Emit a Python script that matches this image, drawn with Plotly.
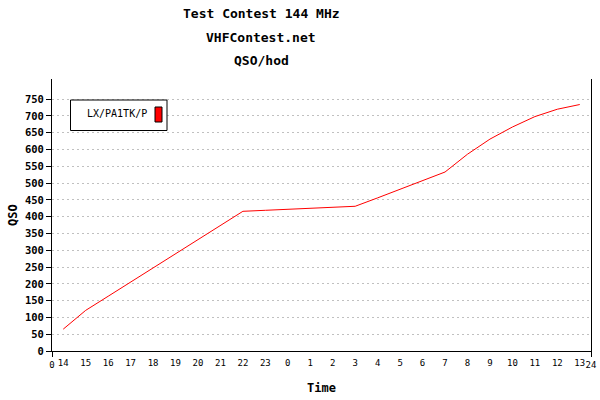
import plotly.graph_objects as go

hours = ["14", "15", "16", "17", "18", "19", "20", "21", "22", "23",
         "0", "1", "2", "3", "4", "5", "6", "7", "8", "9", "10", "11", "12", "13"]
qso = [65, 121, 163, 205, 247, 290, 332, 374, 416, 419,
       422, 425, 428, 431, 456, 482, 507, 533, 586, 631, 667, 698, 720, 734]
y_ticks = list(range(0, 751, 50))
series_name = "LX/PA1TK/P"
titles = ["Test Contest 144 MHz", "VHFContest.net", "QSO/hod"]

MONO = "DejaVu Sans Mono"
L, R, T, B = 52, 9, 79, 49
W, H = 600, 400
PW, PH = W - L - R, H - T - B

def px(xp):
    return (xp - L) / PW

def py(yp):
    return (H - B - yp) / PH

xpos = [i + 0.5 for i in range(len(hours))]

fig = go.Figure()
fig.add_trace(go.Scatter(x=xpos, y=qso, mode="lines", name=series_name,
                         line=dict(color="#ff0000", width=1), showlegend=False))
# invisible trace on overlay axis for hour labels
fig.add_trace(go.Scatter(x=xpos, y=qso, mode="lines", xaxis="x2",
                         line=dict(color="rgba(0,0,0,0)", width=0),
                         showlegend=False, hoverinfo="skip"))

fig.update_layout(
    width=W, height=H,
    margin=dict(l=L, r=R, t=T, b=B, pad=0, autoexpand=False),
    paper_bgcolor="white", plot_bgcolor="white",
    font=dict(family=MONO, color="black"),
    xaxis=dict(range=[0, 24], tickvals=[0, 24], ticktext=["0", "24"],
               ticks="outside", ticklen=5, tickcolor="black",
               tickfont=dict(size=9, family=MONO), automargin=False,
               showline=True, linecolor="black", linewidth=1,
               showgrid=False, zeroline=False, fixedrange=True),
    xaxis2=dict(range=[0, 24], overlaying="x", side="bottom",
                tickvals=xpos, ticktext=hours, ticks="outside", ticklen=3,
                tickcolor="rgba(0,0,0,0)",
                tickfont=dict(size=9, family=MONO), automargin=False,
                showline=False, showgrid=False, zeroline=False),
    yaxis=dict(range=[0, 810], tickvals=y_ticks, automargin=False,
               ticks="outside", ticklen=5, tickcolor="black",
               tickfont=dict(size=10.5, family=MONO, weight="bold"),
               showline=True, linecolor="black", linewidth=1, mirror=True,
               showgrid=True, gridcolor="#c0c0c0", griddash="2px,3px",
               gridwidth=1, zeroline=False),
)

annotations = []
for text, ypix in zip(titles, [13.3, 37.5, 60]):
    annotations.append(dict(text=text, x=px(261), y=py(ypix), xref="paper", yref="paper",
                            xanchor="center", yanchor="middle", showarrow=False,
                            font=dict(family=MONO, size=13, weight="bold")))
annotations.append(dict(text="QSO", x=px(13), y=py(215), xref="paper", yref="paper",
                        textangle=-90, xanchor="center", yanchor="middle", showarrow=False,
                        font=dict(family=MONO, size=12, weight="bold")))
annotations.append(dict(text="Time", x=px(321), y=py(388), xref="paper", yref="paper",
                        xanchor="center", yanchor="middle", showarrow=False,
                        font=dict(family=MONO, size=12, weight="bold")))
annotations.append(dict(text=series_name, x=px(149), y=py(113.5), xref="paper", yref="paper",
                        xanchor="right", yanchor="middle", showarrow=False,
                        font=dict(family=MONO, size=10)))
fig.update_layout(annotations=annotations)

fig.update_layout(shapes=[
    dict(type="rect", xref="paper", yref="paper",
         x0=px(70.5), x1=px(167), y0=py(130.5), y1=py(100),
         line=dict(color="black", width=1), fillcolor="white", layer="above"),
    dict(type="rect", xref="paper", yref="paper",
         x0=px(155), x1=px(162), y0=py(122), y1=py(107),
         line=dict(color="black", width=1), fillcolor="#ff0000", layer="above"),
])

fig.write_html("out.html", config={"displayModeBar": False},
               post_script="document.body.style.margin='0px';document.body.style.overflow='hidden';")
